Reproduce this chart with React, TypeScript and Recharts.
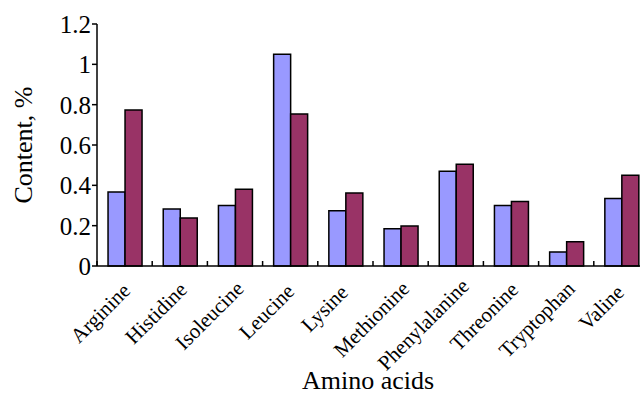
import * as React from 'react'
import { Bar, BarChart, XAxis, YAxis } from 'recharts'

const aminoAcids = [
  'Arginine',
  'Histidine',
  'Isoleucine',
  'Leucine',
  'Lysine',
  'Methionine',
  'Phenylalanine',
  'Threonine',
  'Tryptophan',
  'Valine',
]
const seriesA = [0.367, 0.283, 0.3, 1.05, 0.274, 0.185, 0.47, 0.3, 0.07, 0.335]
const seriesB = [0.773, 0.238, 0.38, 0.754, 0.362, 0.198, 0.505, 0.32, 0.12, 0.45]
const yTicks = [0, 0.2, 0.4, 0.6, 0.8, 1, 1.2]

const FONT = '"Liberation Serif", "Times New Roman", serif'
const CHART_W = 660
const CHART_H = 394
const X_AXIS_H = 128
const Y_AXIS_W = 97
const MARGIN = { top: 24, right: 11, bottom: 0, left: 0 }
const PLOT_W = CHART_W - MARGIN.left - MARGIN.right - Y_AXIS_W

const data = aminoAcids.map((name, i) => ({ name, a: seriesA[i], b: seriesB[i] }))

// category label rotated -45deg plus a small inward tick at the category's left boundary.
// longer labels sit a bit further up and right, like the original spreadsheet layout
const CategoryTick = (props: any) => {
  const { x, y, payload } = props
  const half = PLOT_W / aminoAcids.length / 2
  const label = String(payload.value)
  const tx = x + 1.5 * label.length - 5
  const ty = y + 33 - 0.9 * label.length
  return (
    <g>
      <line x1={x - half} y1={y} x2={x - half} y2={y - 5} stroke="#000" strokeWidth={1.5} />
      <text
        x={tx}
        y={ty}
        transform={`rotate(-45 ${tx} ${ty})`}
        textAnchor="end"
        fontFamily={FONT}
        fontSize={21}
        fill="#000"
      >
        {label}
      </text>
    </g>
  )
}

export default function App() {
  return (
    <div
      style={{
        position: 'absolute',
        left: 0,
        top: 0,
        width: 640,
        height: 394,
        overflow: 'hidden',
        background: '#fff',
      }}
    >
      <BarChart
        width={CHART_W}
        height={CHART_H}
        data={data}
        margin={MARGIN}
        barCategoryGap="20%"
        barGap={0}
      >
        <XAxis
          dataKey="name"
          interval={0}
          tickSize={0}
          tickMargin={0}
          tickLine={false}
          axisLine={{ stroke: '#000', strokeWidth: 1.5 }}
          tick={<CategoryTick />}
          height={X_AXIS_H}
          label={{
            content: ({ viewBox }: any) => (
              <text
                x={viewBox.x + viewBox.width / 2 - 5}
                y={viewBox.y + 123}
                textAnchor="middle"
                fontFamily={FONT}
                fontSize={26}
                fill="#000"
              >
                Amino acids
              </text>
            ),
          }}
        />
        <YAxis
          width={Y_AXIS_W}
          domain={[0, 1.2]}
          ticks={yTicks}
          interval={0}
          tickSize={5}
          tickMargin={1}
          axisLine={{ stroke: '#000', strokeWidth: 1.5 }}
          tickLine={{ stroke: '#000', strokeWidth: 1.5 }}
          tick={{ fontFamily: FONT, fontSize: 25, fill: '#000' }}
          label={{
            content: ({ viewBox }: any) => {
              const cx = viewBox.x + 23
              const cy = viewBox.y + viewBox.height / 2
              return (
                <text
                  x={cx}
                  y={cy}
                  transform={`rotate(-90 ${cx} ${cy})`}
                  textAnchor="middle"
                  dominantBaseline="central"
                  fontFamily={FONT}
                  fontSize={26}
                  fill="#000"
                >
                  Content, %
                </text>
              )
            },
          }}
        />
        <Bar dataKey="a" fill="#9999FF" stroke="#000" strokeWidth={1.5} isAnimationActive={false} />
        <Bar dataKey="b" fill="#993366" stroke="#000" strokeWidth={1.5} isAnimationActive={false} />
      </BarChart>
    </div>
  )
}
